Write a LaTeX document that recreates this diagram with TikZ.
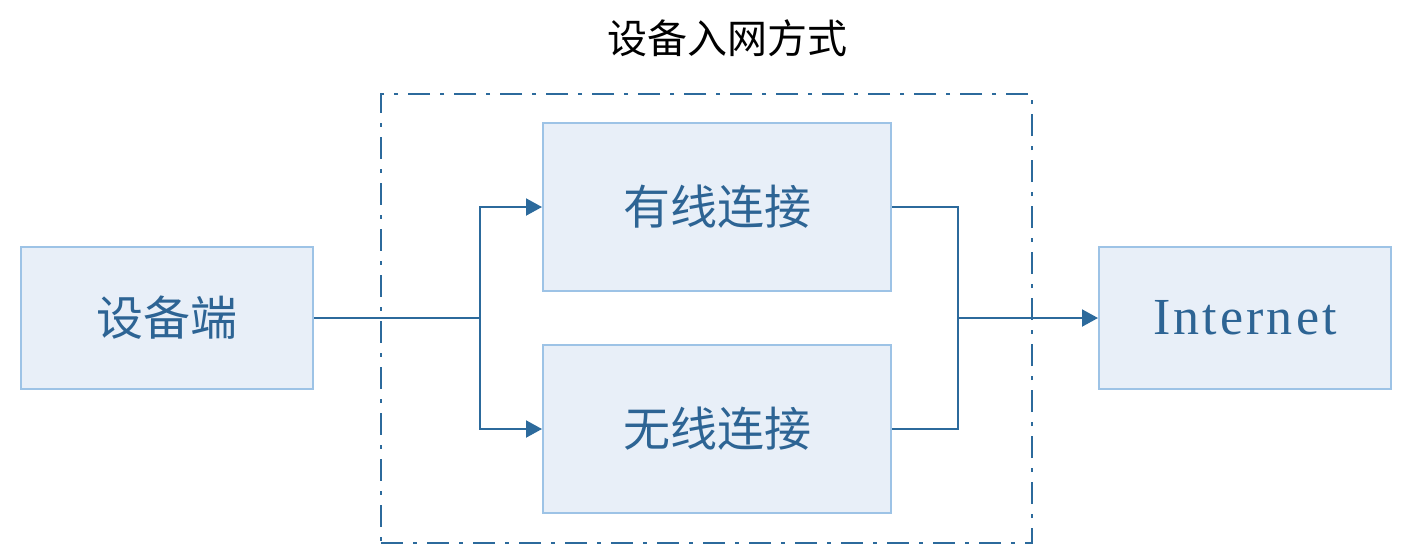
\documentclass[tikz,border=0pt]{standalone}
\usepackage{fontspec}
\setmainfont{Liberation Serif}
\newfontfamily\cjk{Noto Sans CJK SC}
\newfontfamily\latinwide[LetterSpace=6]{Liberation Serif}
\usetikzlibrary{arrows.meta}
\definecolor{lineblue}{HTML}{2C6A9C}
\definecolor{boxfill}{HTML}{E8EFF8}
\definecolor{boxborder}{HTML}{9DC3E6}
\definecolor{textblue}{HTML}{2D6494}
\tikzset{
  blk/.style={draw=boxborder, fill=boxfill, line width=1pt, inner sep=0pt, text=textblue, font=\cjk\fontsize{23.5}{27}\selectfont},
  conn/.style={draw=lineblue, line width=1pt},
  arr/.style={conn, -{Triangle[length=8pt,width=8.5pt]}},
  frame/.style={draw=lineblue, line width=1pt, dash pattern=on 11pt off 5pt on 2pt off 5pt, inner sep=0pt}
}
\begin{document}
\begin{tikzpicture}[x=0.5pt,y=-0.5pt]
\useasboundingbox (0,0) rectangle (1410,559);
\node[font=\cjk\fontsize{20}{24}\selectfont, text=black] (title) at (727,38) {设备入网方式};
\node[frame, minimum width=325.5pt, minimum height=224.5pt] (group) at (706.5,318.5) {};
\node[blk, minimum width=174pt, minimum height=84pt] (wired) at (717,207) {有线连接};
\node[blk, minimum width=174pt, minimum height=84pt] (wireless) at (717,429) {无线连接};
\node[blk, minimum width=146pt, minimum height=71pt] (dev) at (167,318) {设备端};
\node[blk, minimum width=146pt, minimum height=71pt, font=\latinwide\fontsize{26}{30}\selectfont] (inet) at (1245,318) {Internet};
\coordinate (j1) at (480,318);
\coordinate (j2) at (958,318);
\draw[conn] (dev.east) -- (j1);
\draw[arr] (j1) |- (wired.west);
\draw[arr] (j1) |- (wireless.west);
\draw[conn] (wired.east) -| (j2);
\draw[conn] (wireless.east) -| (j2);
\draw[arr] (j2) -- (inet.west);
\end{tikzpicture}
\end{document}
